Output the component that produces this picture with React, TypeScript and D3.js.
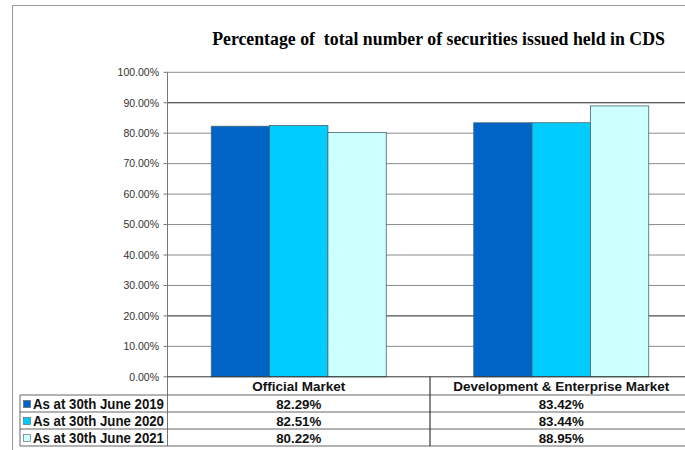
import React from "react";
import * as d3 from "d3";

const categories = ["Official Market", "Development & Enterprise Market"];
const seriesNames = ["As at 30th June 2019", "As at 30th June 2020", "As at 30th June 2021"];
const values2019 = [82.29, 83.42];
const values2020 = [82.51, 83.44];
const values2021 = [80.22, 88.95];
const seriesValues = [values2019, values2020, values2021];
const seriesColors = ["#0063C6", "#00CCFF", "#CCFFFF"];
const yTicks = [0, 10, 20, 30, 40, 50, 60, 70, 80, 90, 100];
const titleText = "Percentage of\u00a0 total number of securities issued held in CDS";

export default function App() {
  const W = 685;
  const H = 450;
  const plotLeft = 167.5;
  const plotRight = 692.5;
  const plotTop = 72.3;
  const plotBottom = 376.8;

  const x = d3.scaleBand<string>().domain(categories).range([plotLeft, plotRight]).paddingInner(0).paddingOuter(0);
  const xs = d3.scaleBand<string>().domain(seriesNames).range([0, x.bandwidth()]).paddingInner(0).paddingOuter(0.75);
  const y = d3.scaleLinear().domain([0, 100]).range([plotBottom, plotTop]);

  const rowH = 17;
  const headerBottom = 395;
  const tableLeft = 20;
  const fmt = (v: number) => v.toFixed(2) + "%";
  const sans = "'Liberation Sans', Arial, sans-serif";

  return (
    <svg width={W} height={H} style={{ position: "absolute", left: 0, top: 0, background: "#fff" }}>
      <rect x={0} y={0} width={W} height={H} fill="#fff" />
      <rect x={12.5} y={5.5} width={720} height={480} fill="none" stroke="#9a9a9a" strokeWidth={1} />
      <text
        x={438.5}
        y={45}
        textAnchor="middle"
        fontFamily="'Liberation Serif', 'Times New Roman', serif"
        fontWeight="bold"
        fontSize={17.8}
        fill="#000"
      >
        {titleText}
      </text>

      {/* gridlines */}
      {yTicks.map((t) => (
        <g key={t}>
          {t > 0 && (
            <line
              x1={plotLeft}
              x2={plotRight}
              y1={y(t)}
              y2={y(t)}
              stroke={t === 90 || t === 20 ? "#222" : "#8a8a8a"}
              strokeWidth={1}
            />
          )}
          <line x1={plotLeft - 4} x2={plotLeft} y1={y(t)} y2={y(t)} stroke="#777" />
          <text x={159} y={y(t) + 3.8} textAnchor="end" fontFamily={sans} fontSize={10.5} fill="#333">
            {t.toFixed(2) + "%"}
          </text>
        </g>
      ))}

      {/* bars */}
      {categories.map((c, ci) => (
        <g key={c}>
          {seriesNames.map((s, si) => {
            const v = seriesValues[si][ci];
            const bx = (x(c) as number) + (xs(s) as number);
            return (
              <rect
                key={s}
                x={bx}
                y={y(v)}
                width={xs.bandwidth()}
                height={y(0) - y(v)}
                fill={seriesColors[si]}
                stroke="#44666e"
                strokeWidth={0.8}
              />
            );
          })}
        </g>
      ))}

      {/* y axis line */}
      <line x1={plotLeft} x2={plotLeft} y1={plotTop} y2={headerBottom + rowH * 3} stroke="#777" />
      {/* x axis line */}
      <line x1={plotLeft} x2={plotRight} y1={plotBottom} y2={plotBottom} stroke="#333" />

      {/* data table */}
      {categories.map((c) => (
        <text
          key={c}
          x={(x(c) as number) + x.bandwidth() / 2}
          y={plotBottom + 14.5}
          textAnchor="middle"
          fontFamily={sans}
          fontWeight="bold"
          fontSize={13.5}
          fill="#111"
        >
          {c}
        </text>
      ))}
      {[0, 1, 2, 3].map((i) => (
        <line
          key={i}
          x1={tableLeft}
          x2={plotRight}
          y1={headerBottom + i * rowH}
          y2={headerBottom + i * rowH}
          stroke="#666"
        />
      ))}
      <line x1={tableLeft} x2={tableLeft} y1={headerBottom} y2={headerBottom + rowH * 3} stroke="#666" />
      <line
        x1={(x(categories[1]) as number)}
        x2={(x(categories[1]) as number)}
        y1={plotBottom}
        y2={headerBottom + rowH * 3}
        stroke="#111"
      />
      {seriesNames.map((s, si) => {
        const ry = headerBottom + si * rowH;
        return (
          <g key={s}>
            <rect x={23.5} y={ry + 5.5} width={7} height={7} fill={seriesColors[si]} stroke="#556" strokeWidth={0.6} />
            <text
              x={33}
              y={ry + 13.5}
              fontFamily={sans}
              fontWeight="bold"
              fontSize={13.8}
              fill="#111"
              textLength={131}
              lengthAdjust="spacingAndGlyphs"
            >
              {s}
            </text>
            {categories.map((c, ci) => (
              <text
                key={c}
                x={(x(c) as number) + x.bandwidth() / 2}
                y={ry + 13.5}
                textAnchor="middle"
                fontFamily={sans}
                fontWeight="bold"
                fontSize={13.3}
                fill="#111"
              >
                {fmt(seriesValues[si][ci])}
              </text>
            ))}
          </g>
        );
      })}
    </svg>
  );
}
